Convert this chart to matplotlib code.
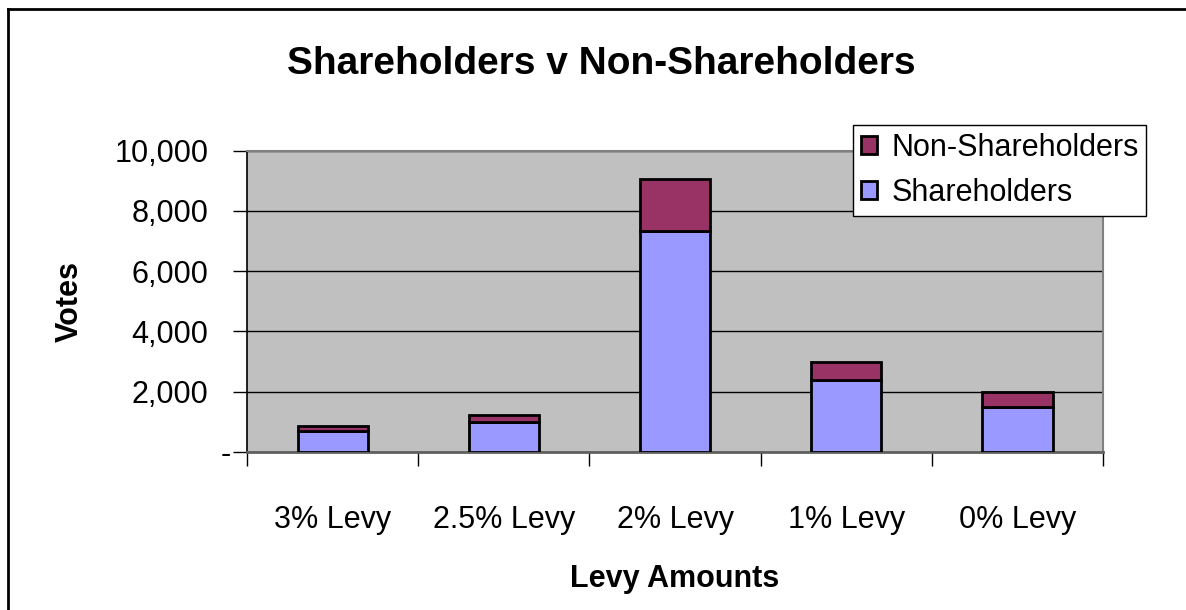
import matplotlib
matplotlib.use('Agg')
import matplotlib.pyplot as plt
from matplotlib.lines import Line2D
from matplotlib.ticker import FuncFormatter
import numpy as np

plt.rcParams['font.family'] = ['Liberation Sans', 'DejaVu Sans']

# data
kategori = ['3% Levy', '2.5% Levy', '2% Levy', '1% Levy', '0% Levy']
shareholders = [700, 1000, 7330, 2400, 1500]
non_shareholders = [170, 220, 1720, 580, 500]

fig = plt.figure(figsize=(11.86, 6.10), dpi=100)
ax = fig.add_axes([0.2083, 0.259, 0.7218, 0.494])
ax.set_facecolor('#C0C0C0')

x = np.arange(len(kategori))
ax.bar(x, shareholders, width=0.41, color='#9999FF', edgecolor='black',
       linewidth=2, label='Shareholders', zorder=3)
ax.bar(x, non_shareholders, width=0.41, bottom=shareholders, color='#993366',
       edgecolor='black', linewidth=2, label='Non-Shareholders', zorder=3)

ax.set_xlim(-0.5, len(kategori) - 0.5)
ax.set_ylim(0, 10000)
ax.set_yticks(np.arange(0, 10001, 2000))
ax.yaxis.set_major_formatter(FuncFormatter(lambda v, p: '' if v == 0 else f'{int(v):,}'))
ax.grid(True, axis='y', color='black', linewidth=1, zorder=1)
# label nol ala excel: cuma tanda strip dekat sumbu
ax.annotate('-', xy=(0, 0), xycoords=('axes fraction', 'data'), xytext=(-11.5, -2),
            textcoords='offset points', ha='right', va='center', fontsize=22)

# tick kategori di batas antar kategori
ax.set_xticks(np.arange(-0.5, len(kategori), 1.0))
ax.set_xticklabels([])
ax.set_xticks(x, minor=True)
ax.set_xticklabels(kategori, minor=True, fontsize=22)
ax.tick_params(axis='x', which='major', length=10, width=1, color='black', direction='out')
ax.tick_params(axis='x', which='minor', length=0, pad=38)
ax.tick_params(axis='y', length=10, width=1, labelsize=22, pad=18)

for s in ['top', 'right']:
    ax.spines[s].set_color('#808080')
    ax.spines[s].set_linewidth(1.5)
ax.spines['bottom'].set_color('#606060')
ax.spines['bottom'].set_linewidth(2)
ax.spines['left'].set_color('black')
ax.spines['left'].set_linewidth(1.2)

ax.set_xlabel('Levy Amounts', fontsize=22, fontweight='bold', labelpad=21)
ax.set_ylabel('Votes', fontsize=22, fontweight='bold', labelpad=21)
fig.text(0.507, 0.895, 'Shareholders v Non-Shareholders', fontsize=28,
         fontweight='bold', ha='center', va='center')

# legend (urutan dibalik, non-shareholder di atas)
h, l = ax.get_legend_handles_labels()
leg = fig.legend(h[::-1], l[::-1], loc='upper left', bbox_to_anchor=(853 / 1186, 1 - 125 / 610),
                 fontsize=22, frameon=True, fancybox=False, handlelength=0.55,
                 handleheight=0.55, handletextpad=0.45, borderpad=0.25, labelspacing=0.5,
                 borderaxespad=0, framealpha=1)
leg.get_frame().set_edgecolor('black')
leg.get_frame().set_facecolor('white')
leg.get_frame().set_linewidth(1)

# border chart
fig.add_artist(Line2D([8 / 1186, 8 / 1186], [0, 1 - 9 / 610], color='black', linewidth=2))
fig.add_artist(Line2D([8 / 1186, 1], [1 - 9 / 610, 1 - 9 / 610], color='black', linewidth=2))

fig.savefig('out.png', dpi=100)
